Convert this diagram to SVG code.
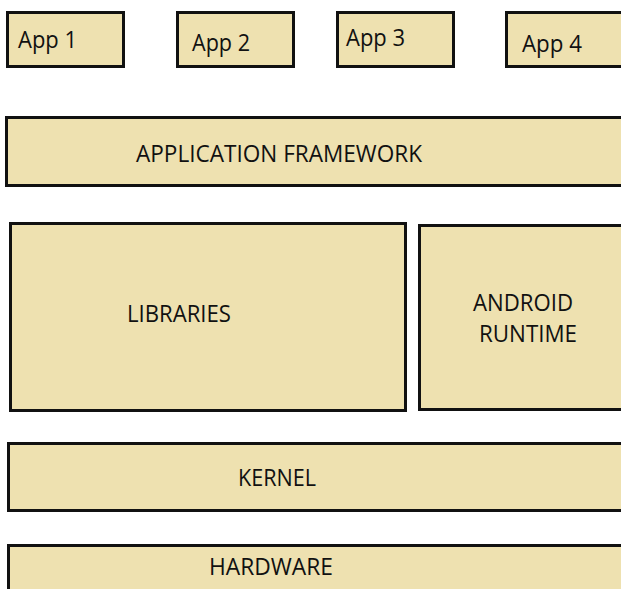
<svg xmlns="http://www.w3.org/2000/svg" width="621" height="589" viewBox="0 0 621 589">
<style>
.box{fill:#EEE1B0;stroke:#111;stroke-width:3}
.t{font-family:"Open Sans","Liberation Sans",sans-serif;font-size:24px;fill:#111}
</style>
<rect width="621" height="589" fill="#fff"/>
<g id="app1"><rect class="box" x="7.5" y="12.5" width="116" height="54"/><text class="t" x="18" y="48" textLength="59" lengthAdjust="spacingAndGlyphs">App 1</text></g>
<g id="app2"><rect class="box" x="177.5" y="12.5" width="116" height="54"/><text class="t" x="192" y="51" textLength="58" lengthAdjust="spacingAndGlyphs">App 2</text></g>
<g id="app3"><rect class="box" x="337.5" y="12.5" width="116" height="54"/><text class="t" x="346" y="46" textLength="59" lengthAdjust="spacingAndGlyphs">App 3</text></g>
<g id="app4"><rect class="box" x="506.5" y="12.5" width="130" height="54"/><text class="t" x="522" y="52" textLength="60" lengthAdjust="spacingAndGlyphs">App 4</text></g>
<g id="framework"><rect class="box" x="6.5" y="117.5" width="630" height="68"/><text class="t" x="136" y="162" textLength="286" lengthAdjust="spacingAndGlyphs">APPLICATION FRAMEWORK</text></g>
<g id="libraries"><rect class="box" x="10.5" y="223.5" width="395" height="187"/><text class="t" x="127" y="322" textLength="104" lengthAdjust="spacingAndGlyphs">LIBRARIES</text></g>
<g id="runtime"><rect class="box" x="419.5" y="225.5" width="217" height="184"/><text class="t" x="473" y="311" textLength="100" lengthAdjust="spacingAndGlyphs">ANDROID</text><text class="t" x="479" y="342" textLength="98" lengthAdjust="spacingAndGlyphs">RUNTIME</text></g>
<g id="kernel"><rect class="box" x="8.5" y="443.5" width="628" height="67"/><text class="t" x="238" y="486" textLength="78" lengthAdjust="spacingAndGlyphs">KERNEL</text></g>
<g id="hardware"><rect class="box" x="8.5" y="545.5" width="628" height="60"/><text class="t" x="209" y="575" textLength="124" lengthAdjust="spacingAndGlyphs">HARDWARE</text></g>
<g id="connectors"></g>
</svg>
